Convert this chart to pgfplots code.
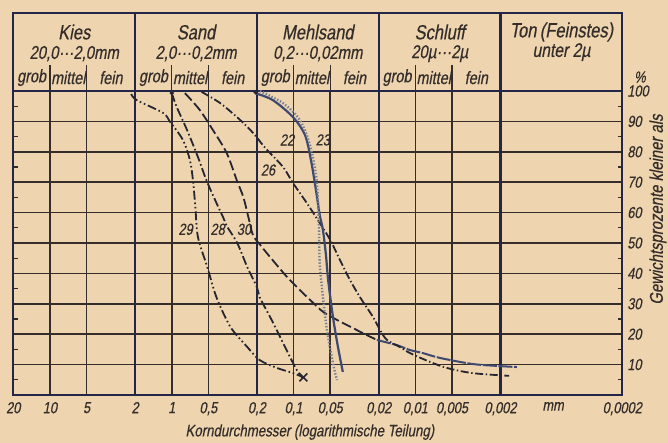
\documentclass[border=0pt]{standalone}
\usepackage{fontspec}
\setmainfont{Liberation Sans}[FakeStretch=0.8, FakeSlant=0.18, FakeBold=0.4]
\usepackage{pgfplots}
\pgfplotsset{compat=1.18}
\definecolor{paper}{RGB}{238,213,175}
\definecolor{ink}{RGB}{52,45,42}
\definecolor{navy}{RGB}{35,38,70}
\definecolor{curve}{RGB}{38,38,50}
\definecolor{bluegray}{RGB}{62,72,112}
\definecolor{dotgray}{RGB}{118,126,145}
\newcommand\fs[1]{\fontsize{#1}{#1}\selectfont}
\begin{document}
\begin{tikzpicture}
\path[use as bounding box, fill=paper] (-6.65pt,-24pt) rectangle (327.35pt,197.5pt);
\begin{axis}[
  at={(0,0)}, anchor=south west,
  scale only axis, width=304.5pt, height=152pt,
  xmode=log, x dir=reverse, xmin=0.0002, xmax=20,
  ymin=0, ymax=100,
  xtick={20,10,5,2,1,0.5,0.2,0.1,0.05,0.02,0.01,0.005,0.002,0.0002},
  xticklabels={20,10,5,2,1,{0,5},{0,2},{0,1},{0,05},{0,02},{0,01},{0,005},{0,002},{0,0002}},
  extra x ticks={0.00074}, extra x tick labels={mm},
  extra x tick style={grid=none},
  xminorticks=false,
  ytick={0,10,20,30,40,50,60,70,80,90,100},
  yticklabels={,10,20,30,40,50,60,70,80,90,100},
  minor ytick={5,15,25,35,45,55,65,75,85,95},
  yticklabel pos=right,
  ytick pos=both,
  tick align=inside,
  major tick length=0pt,
  minor tick length=2.2pt,
  minor tick style={ink, line width=0.6pt},
  grid=major,
  major grid style={ink, line width=0.8pt},
  axis line style={navy, line width=1.1pt},
  clip=false,
  ticklabel style={font=\fs{8}, text=ink},
  yticklabel style={anchor=west, xshift=-1pt},
]
% decade boundaries and header
\draw[navy, line width=1.2pt] (axis cs:2,0) -- (axis cs:2,125.7);
\draw[navy, line width=1.2pt] (axis cs:0.2,0) -- (axis cs:0.2,125.7);
\draw[navy, line width=1.2pt] (axis cs:0.02,0) -- (axis cs:0.02,125.7);
\draw[navy, line width=1.2pt] (axis cs:0.002,0) -- (axis cs:0.002,125.7);
\draw[navy, line width=1.1pt] (axis cs:20,100) -- (axis cs:20,125.7) -- (axis cs:0.0002,125.7) -- (axis cs:0.0002,100);
\draw[ink, line width=0.7pt] (axis cs:10,100) -- (axis cs:10,108.5);
\draw[ink, line width=0.7pt] (axis cs:5,100) -- (axis cs:5,108.5);
\draw[ink, line width=0.7pt] (axis cs:1,100) -- (axis cs:1,108.5);
\draw[ink, line width=0.7pt] (axis cs:0.5,100) -- (axis cs:0.5,108.5);
\draw[ink, line width=0.7pt] (axis cs:0.1,100) -- (axis cs:0.1,108.5);
\draw[ink, line width=0.7pt] (axis cs:0.05,100) -- (axis cs:0.05,108.5);
\draw[ink, line width=0.7pt] (axis cs:0.01,100) -- (axis cs:0.01,108.5);
\draw[ink, line width=0.7pt] (axis cs:0.005,100) -- (axis cs:0.005,108.5);
% header text
\node[font=\fs{10.3}, text=ink] at (axis cs:6.32,119.4) {Kies};
\node[font=\fs{9.3}, text=ink] at (axis cs:6.32,112.3) {20,0···2,0mm};
\node[font=\fs{10.3}, text=ink] at (axis cs:0.632,119.4) {Sand};
\node[font=\fs{9.3}, text=ink] at (axis cs:0.632,112.3) {2,0···0,2mm};
\node[font=\fs{10.3}, text=ink] at (axis cs:0.0632,119.4) {Mehlsand};
\node[font=\fs{9.3}, text=ink] at (axis cs:0.0632,112.3) {0,2···0,02mm};
\node[font=\fs{10.3}, text=ink] at (axis cs:0.00632,119.4) {Schluff};
\node[font=\fs{9.3}, text=ink] at (axis cs:0.00632,112.3) {20µ···2µ};
\node[font=\fs{10.3}, text=ink] at (axis cs:0.000632,119.4) {Ton\,(Feinstes)};
\node[font=\fs{9.8}, text=ink] at (axis cs:0.000632,112.8) {unter 2µ};
\node[font=\fs{9}, text=ink] at (axis cs:14.14,104.4) {grob};
\node[font=\fs{9}, text=ink] at (axis cs:7.07,104.4) {mittel};
\node[font=\fs{9}, text=ink] at (axis cs:3.16,104.4) {fein};
\node[font=\fs{9}, text=ink] at (axis cs:1.414,104.4) {grob};
\node[font=\fs{9}, text=ink] at (axis cs:0.707,104.4) {mittel};
\node[font=\fs{9}, text=ink] at (axis cs:0.316,104.4) {fein};
\node[font=\fs{9}, text=ink] at (axis cs:0.1414,104.4) {grob};
\node[font=\fs{9}, text=ink] at (axis cs:0.0707,104.4) {mittel};
\node[font=\fs{9}, text=ink] at (axis cs:0.0316,104.4) {fein};
\node[font=\fs{9}, text=ink] at (axis cs:0.01414,104.4) {grob};
\node[font=\fs{9}, text=ink] at (axis cs:0.00707,104.4) {mittel};
\node[font=\fs{9}, text=ink] at (axis cs:0.00316,104.4) {fein};
% axis texts
\node[font=\fs{8}, text=ink] at (rel axis cs:1.029,1.046) {\%};
\node[font=\fs{9.3}, text=ink, rotate=90] at (rel axis cs:1.0586,0.61) {Gewichtsprozente kleiner als};
\node[font=\fs{8.3}, text=ink] at (rel axis cs:0.487,-0.122) {Korndurchmesser (logarithmische Teilung)};
% curve labels
\node[font=\fs{8}, text=ink] at (axis cs:0.113,83.9) {22};
\node[font=\fs{8}, text=ink] at (axis cs:0.0575,83.9) {23};
\node[font=\fs{8}, text=ink] at (axis cs:0.162,74) {26};
\node[font=\fs{8}, text=ink] at (axis cs:0.77,54.5) {29};
\node[font=\fs{8}, text=ink] at (axis cs:0.42,54.5) {28};
\node[font=\fs{8}, text=ink] at (axis cs:0.255,54.5) {30};
% curve 29
\addplot[curve, line width=0.9pt, smooth, tension=0.5, dash pattern=on 4.5pt off 1.4pt on 0.8pt off 1.4pt on 0.8pt off 1.4pt] coordinates {
(2.15,99) (1.94,97) (1.18,92.8) (1.03,89.8) (0.81,83.9) (0.71,77.3) (0.67,70.7) (0.64,61.8) (0.61,52) (0.51,42) (0.43,32.2) (0.33,22.4) (0.24,15.8) (0.19,11.5) (0.137,8.9) (0.101,7.2) (0.084,5.9)};
% curve 28
\addplot[curve, line width=0.9pt, smooth, tension=0.5, dash pattern=on 4.5pt off 1.4pt on 0.8pt off 1.4pt] coordinates {
(1.0,99.3) (0.91,94.7) (0.75,87.2) (0.61,78.3) (0.52,70.7) (0.43,63.2) (0.38,58.6) (0.35,55.3) (0.29,50) (0.24,42.1) (0.20,35.5) (0.19,32.2) (0.156,25.7) (0.129,19.1) (0.107,12.5) (0.094,8.2) (0.084,5.6)};
% curve 30
\addplot[curve, line width=0.9pt, smooth, tension=0.5, dash pattern=on 5pt off 1.8pt] coordinates {
(0.78,99.3) (0.59,93.8) (0.46,87.2) (0.354,79.6) (0.293,70.7) (0.258,65) (0.232,57.6) (0.215,52.5) (0.189,49.5) (0.156,45.4) (0.113,38.8) (0.084,33.6) (0.069,30.3) (0.057,27.3) (0.044,24.7) (0.034,22.4) (0.025,19.7) (0.0207,18.1)};
\addplot[bluegray, line width=1.0pt, smooth, tension=0.5, dash pattern=on 7pt off 0.8pt] coordinates {
(0.0207,18.1) (0.0142,16.4) (0.0111,14.8) (0.0087,13.8) (0.0063,12.2) (0.0034,10.2) (0.0020,9.5) (0.00147,9.2)};
% curve 26
\addplot[curve, line width=0.9pt, smooth, tension=0.5, dash pattern=on 4pt off 1.3pt on 0.7pt off 1.3pt] coordinates {
(0.568,99.7) (0.40,96) (0.275,90.5) (0.215,86.2) (0.171,81.3) (0.122,75) (0.101,69.7) (0.078,63.2) (0.061,56.6) (0.050,51) (0.0416,44.4) (0.0344,37.8) (0.0285,32.2) (0.0223,25.7) (0.0195,21.4) (0.0171,18.1) (0.0134,15.8) (0.0111,13.8) (0.0076,10.9) (0.0055,8.9) (0.0034,7.2) (0.0017,6.3)};
% curve 22
\addplot[bluegray, line width=1.1pt, smooth, tension=0.5] coordinates {
(0.207,99.3) (0.148,97) (0.101,91.4) (0.0805,85.5) (0.072,77.3) (0.0655,67.4) (0.061,59.2) (0.0574,54.3) (0.0542,46) (0.052,37.8) (0.0475,25.7) (0.0432,15.8) (0.0394,7.6)};
% curve 23
\addplot[dotgray, line width=1.2pt, smooth, tension=0.5, dash pattern=on 0.7pt off 0.9pt] coordinates {
(0.189,100) (0.122,96) (0.089,90.5) (0.0733,82.2) (0.0655,72.4) (0.063,64.1) (0.0618,54.3) (0.061,43.4) (0.0574,32.2) (0.0532,21.4) (0.0475,10.5) (0.044,4.9)};
% marks
\addplot[curve, only marks, mark=*, mark size=0.9pt] coordinates {(1.0,99.3) (0.205,99.6)};
\addplot[curve, only marks, mark=x, mark size=2.8pt, mark options={line width=0.8pt}] coordinates {(0.083,5.8)};
\end{axis}
\end{tikzpicture}
\end{document}
